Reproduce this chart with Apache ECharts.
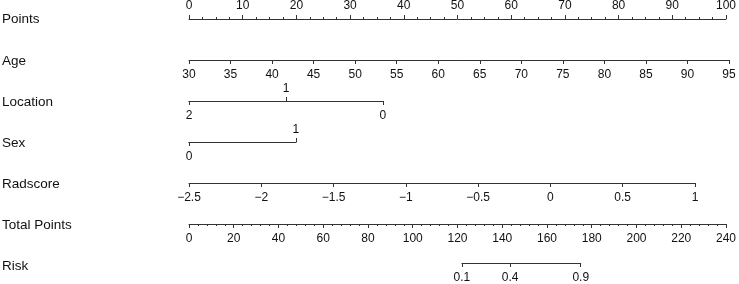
<!DOCTYPE html>
<html><head><meta charset="utf-8">
<script src="https://cdn.jsdelivr.net/npm/echarts@6/dist/echarts.min.js"></script>
<style>html,body{margin:0;padding:0;background:#fff}#c{width:739px;height:284px}</style>
</head><body><div id="c"></div>
<script>
// ---- data ----
const rowNames = ['Points', 'Age', 'Location', 'Sex', 'Radscore', 'Total Points', 'Risk'];
const pointsRange = [0, 100];
const pointsStep = 10;
const ageRange = [30, 95];
const ageStep = 5;
const locationLevels = [2, 1, 0];
const locationPoints = [0, 18, 35.9];
const sexLevels = [0, 1];
const sexPoints = [0, 19.8];
const radscoreRange = [-2.5, 1];
const radscoreStep = 0.5;
const radscorePoints = [0, 93.7];
const totalPointsRange = [0, 240];
const totalPointsStep = 20;
const riskLabels = [0.1, 0.4, 0.9];
const riskTotalPoints = [121.3, 142.7, 174.1];

// ---- layout ----
const X0 = 189, W = 540;
const rowY = [18, 60, 101, 142, 183, 224, 265];
const FONT = "'Liberation Sans', Arial, Helvetica, sans-serif";
const LINE = '#333';
const ptsX = p => X0 + p / 100 * W;
const tpX = t => X0 + t / 240 * W;

const grids = [], xAxes = [], yAxes = [];
function addAxis(left, right, y, position, ax) {
  const gi = grids.length;
  grids.push({left: left, width: right - left, top: position === 'top' ? y : y - 10, height: 10});
  yAxes.push({gridIndex: gi, type: 'value', show: false, min: 0, max: 1});
  xAxes.push(Object.assign({
    type: 'value', gridIndex: gi, position: position,
    splitLine: {show: false}
  }, ax, {
    axisTick: Object.assign({show: true, length: 4, lineStyle: {color: LINE, width: 1}}, ax.axisTick || {}),
    axisLabel: Object.assign({show: true, fontSize: 12, color: '#111', fontFamily: FONT, margin: 9}, ax.axisLabel || {}),
    axisLine: {show: true, onZero: false, lineStyle: {color: LINE, width: 1}}
  }));
}
const minus = v => String(v).replace('-', '\u2212');

// Points
addAxis(ptsX(pointsRange[0]), ptsX(pointsRange[1]), rowY[0], 'top', {
  min: pointsRange[0], max: pointsRange[1], interval: pointsStep,
  minorTick: {show: true, splitNumber: 4, length: 2, lineStyle: {color: LINE, width: 1}},
  axisLabel: {margin: 7}
});
// Age
addAxis(ptsX(0), ptsX(100), rowY[1], 'bottom', {
  min: ageRange[0], max: ageRange[1], interval: ageStep
});
// Location bottom (2, 0)
addAxis(ptsX(locationPoints[0]), ptsX(locationPoints[2]), rowY[2], 'bottom', {
  min: locationPoints[0], max: locationPoints[2],
  axisTick: {customValues: [locationPoints[0], locationPoints[2]]},
  axisLabel: {customValues: [locationPoints[0], locationPoints[2]],
    formatter: v => String(locationLevels[locationPoints.indexOf(v)])}
});
// Location top (1)
addAxis(ptsX(locationPoints[0]), ptsX(locationPoints[2]), rowY[2], 'top', {
  min: locationPoints[0], max: locationPoints[2],
  axisTick: {customValues: [locationPoints[1]]},
  axisLabel: {customValues: [locationPoints[1]], margin: 6,
    formatter: v => String(locationLevels[locationPoints.indexOf(v)])}
});
// Sex bottom (0)
addAxis(ptsX(sexPoints[0]), ptsX(sexPoints[1]), rowY[3], 'bottom', {
  min: sexPoints[0], max: sexPoints[1],
  axisTick: {customValues: [sexPoints[0]]},
  axisLabel: {customValues: [sexPoints[0]], formatter: v => String(sexLevels[sexPoints.indexOf(v)])}
});
// Sex top (1)
addAxis(ptsX(sexPoints[0]), ptsX(sexPoints[1]), rowY[3], 'top', {
  min: sexPoints[0], max: sexPoints[1],
  axisTick: {customValues: [sexPoints[1]]},
  axisLabel: {customValues: [sexPoints[1]], margin: 6, formatter: v => String(sexLevels[sexPoints.indexOf(v)])}
});
// Radscore
addAxis(ptsX(radscorePoints[0]), ptsX(radscorePoints[1]), rowY[4], 'bottom', {
  min: radscoreRange[0], max: radscoreRange[1], interval: radscoreStep,
  axisLabel: {formatter: minus}
});
// Total Points
addAxis(tpX(totalPointsRange[0]), tpX(totalPointsRange[1]), rowY[5], 'bottom', {
  min: totalPointsRange[0], max: totalPointsRange[1], interval: totalPointsStep,
  minorTick: {show: true, splitNumber: 5, length: 2, lineStyle: {color: LINE, width: 1}}
});
// Risk
addAxis(tpX(riskTotalPoints[0]), tpX(riskTotalPoints[riskTotalPoints.length - 1]), rowY[6], 'bottom', {
  min: riskTotalPoints[0], max: riskTotalPoints[riskTotalPoints.length - 1],
  axisTick: {customValues: riskTotalPoints},
  axisLabel: {customValues: riskTotalPoints, formatter: v => String(riskLabels[riskTotalPoints.indexOf(v)])}
});

const chart = echarts.init(document.getElementById('c'), null, {renderer: 'canvas'});
chart.setOption({
  animation: false,
  backgroundColor: '#fff',
  grid: grids,
  xAxis: xAxes,
  yAxis: yAxes,
  graphic: rowNames.map((n, i) => ({
    type: 'text', x: 2, y: rowY[i] + 1,
    style: {text: n, fontSize: 13.5, fontFamily: FONT, fill: '#111', verticalAlign: 'middle', align: 'left'}
  })),
  series: []
});
</script></body></html>
